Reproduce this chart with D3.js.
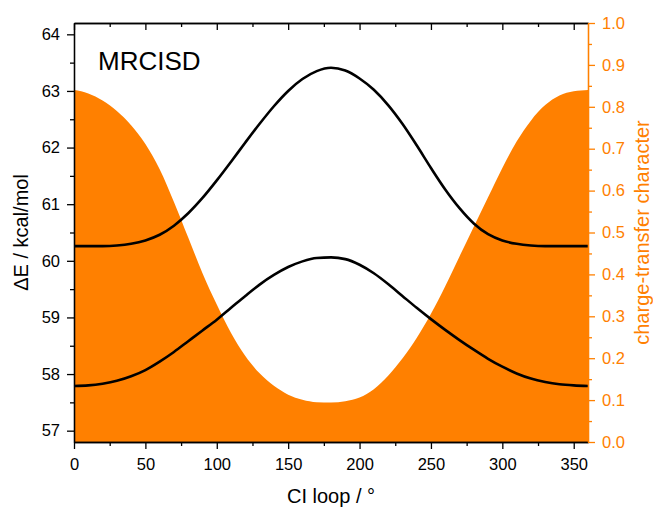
<!DOCTYPE html>
<html>
<head>
<meta charset="utf-8">
<script src="https://cdn.jsdelivr.net/npm/d3@7"></script>
<style>
  html, body { margin: 0; padding: 0; background: #fff; }
  svg { display: block; font-family: "Liberation Sans", Arial, sans-serif; }
</style>
</head>
<body>
<svg id="chart" width="653" height="510"></svg>
<script>
// CI loop angle (degrees)
const angles = [0, 10, 20, 30, 40, 50, 60, 70, 80, 90, 100, 110, 120, 130, 140, 150, 160, 170, 180,
                190, 200, 210, 220, 230, 240, 250, 260, 270, 280, 290, 300, 310, 320, 330, 340, 350, 360];

// Upper state energy gap (kcal/mol)
const upperE = [60.26, 60.26, 60.26, 60.27, 60.30, 60.36, 60.46, 60.62, 60.84, 61.11, 61.42, 61.75, 62.09,
                62.42, 62.73, 63.00, 63.21, 63.35, 63.41, 63.36, 63.22, 63.02, 62.75, 62.42, 62.04,
                61.64, 61.26, 60.93, 60.66, 60.47, 60.36, 60.30, 60.27, 60.26, 60.26, 60.26, 60.26];

// Lower state energy gap (kcal/mol)
const lowerE = [57.79, 57.80, 57.83, 57.88, 57.96, 58.07, 58.22, 58.39, 58.58, 58.77, 58.96, 59.17, 59.38,
                59.58, 59.75, 59.89, 59.99, 60.05, 60.06, 60.03, 59.93, 59.78, 59.59, 59.38, 59.17,
                58.97, 58.78, 58.60, 58.43, 58.27, 58.13, 58.01, 57.92, 57.86, 57.82, 57.80, 57.79];

// Charge-transfer character (0..1)
const ctChar = [0.840, 0.832, 0.815, 0.790, 0.756, 0.711, 0.651, 0.573, 0.488, 0.403, 0.328, 0.260, 0.205,
                0.164, 0.134, 0.113, 0.101, 0.095, 0.094, 0.097, 0.106, 0.126, 0.158, 0.199, 0.248,
                0.306, 0.372, 0.443, 0.514, 0.584, 0.654, 0.717, 0.767, 0.804, 0.827, 0.837, 0.840];

// Axis ticks
const xMajorTicks = [0, 50, 100, 150, 200, 250, 300, 350];
const xMinorTicks = [25, 75, 125, 175, 225, 275, 325];
const eMajorTicks = [57, 58, 59, 60, 61, 62, 63, 64];
const eMinorTicks = [57.5, 58.5, 59.5, 60.5, 61.5, 62.5, 63.5];
const ctMajorTicks = [0, 0.1, 0.2, 0.3, 0.4, 0.5, 0.6, 0.7, 0.8, 0.9, 1.0];
const ctMinorTicks = [0.05, 0.15, 0.25, 0.35, 0.45, 0.55, 0.65, 0.75, 0.85, 0.95];

const methodLabel = "MRCISD";
const xTitle = "CI loop / °";
const yTitle = "ΔE / kcal/mol";
const y2Title = "charge-transfer character";

const ORANGE = "#ff8000";
const margin = { top: 23, right: 65, bottom: 68, left: 74 };
const W = 653, H = 510;
const innerW = W - margin.left - margin.right;
const innerH = H - margin.top - margin.bottom;

const svg = d3.select("#chart");
const g = svg.append("g").attr("transform", `translate(${margin.left},${margin.top})`);

const x = d3.scaleLinear().domain([0, 360]).range([0, innerW]);
const yE = d3.scaleLinear().domain([56.8, 64.2]).range([innerH, 0]);
const yCT = d3.scaleLinear().domain([0, 1]).range([innerH, 0]);

const rows = angles.map((a, i) => ({ a, up: upperE[i], lo: lowerE[i], ct: ctChar[i] }));

// Charge-transfer area
g.append("path")
  .datum(rows)
  .attr("fill", ORANGE)
  .attr("d", d3.area()
    .curve(d3.curveMonotoneX)
    .x(d => x(d.a))
    .y0(innerH)
    .y1(d => yCT(d.ct)));

// Energy curves
const lineUp = d3.line().curve(d3.curveMonotoneX).x(d => x(d.a)).y(d => yE(d.up));
const lineLo = d3.line().curve(d3.curveMonotoneX).x(d => x(d.a)).y(d => yE(d.lo));
[lineUp, lineLo].forEach(fn => {
  g.append("path")
    .datum(rows)
    .attr("fill", "none")
    .attr("stroke", "#000")
    .attr("stroke-width", 2.6)
    .attr("stroke-linejoin", "round")
    .attr("d", fn);
});

const tickFont = 16.5;
function styleAxis(sel, color) {
  sel.selectAll("path.domain").attr("stroke", color).attr("stroke-width", 1.3);
  sel.selectAll(".tick line").attr("stroke", color).attr("stroke-width", 1.3);
  sel.selectAll("text").attr("fill", color).attr("font-size", tickFont)
    .attr("font-family", '"Liberation Sans", Arial, sans-serif');
}

// Bottom axis
const bx = g.append("g").attr("transform", `translate(0,${innerH})`)
  .call(d3.axisBottom(x).tickValues(xMajorTicks).tickSize(7).tickSizeOuter(0).tickPadding(9).tickFormat(d3.format("d")));
styleAxis(bx, "#000");
const bxm = g.append("g").attr("transform", `translate(0,${innerH})`)
  .call(d3.axisBottom(x).tickValues(xMinorTicks).tickSize(4).tickSizeOuter(0).tickFormat(""));
styleAxis(bxm, "#000");

// Top axis (inward ticks)
const tx = g.append("g")
  .call(d3.axisTop(x).tickValues(xMajorTicks).tickSize(-7).tickSizeOuter(0).tickFormat(""));
styleAxis(tx, "#000");
const txm = g.append("g")
  .call(d3.axisTop(x).tickValues(xMinorTicks).tickSize(-4).tickSizeOuter(0).tickFormat(""));
styleAxis(txm, "#000");

// Left axis (energy)
const ly = g.append("g")
  .call(d3.axisLeft(yE).tickValues(eMajorTicks).tickSize(7).tickSizeOuter(0).tickPadding(7).tickFormat(d3.format("d")));
styleAxis(ly, "#000");
const lym = g.append("g")
  .call(d3.axisLeft(yE).tickValues(eMinorTicks).tickSize(4).tickSizeOuter(0).tickFormat(""));
styleAxis(lym, "#000");

// Right axis (charge-transfer character)
const ry = g.append("g").attr("transform", `translate(${innerW},0)`)
  .call(d3.axisRight(yCT).tickValues(ctMajorTicks).tickSize(7).tickSizeOuter(0).tickPadding(7).tickFormat(d3.format(".1f")));
styleAxis(ry, ORANGE);
const rym = g.append("g").attr("transform", `translate(${innerW},0)`)
  .call(d3.axisRight(yCT).tickValues(ctMinorTicks).tickSize(4).tickSizeOuter(0).tickFormat(""));
styleAxis(rym, ORANGE);

// Method label
svg.append("text")
  .attr("x", 98).attr("y", 70)
  .attr("font-size", 26)
  .attr("fill", "#000")
  .text(methodLabel);

// Axis titles
svg.append("text")
  .attr("x", margin.left + innerW / 2).attr("y", 503)
  .attr("text-anchor", "middle")
  .attr("font-size", 20)
  .attr("fill", "#000")
  .text(xTitle);

svg.append("text")
  .attr("transform", `translate(28,${margin.top + innerH / 2}) rotate(-90)`)
  .attr("text-anchor", "middle")
  .attr("font-size", 20)
  .attr("fill", "#000")
  .text(yTitle);

svg.append("text")
  .attr("transform", `translate(649,${margin.top + innerH / 2}) rotate(-90)`)
  .attr("text-anchor", "middle")
  .attr("font-size", 20)
  .attr("fill", ORANGE)
  .text(y2Title);
</script>
</body>
</html>
